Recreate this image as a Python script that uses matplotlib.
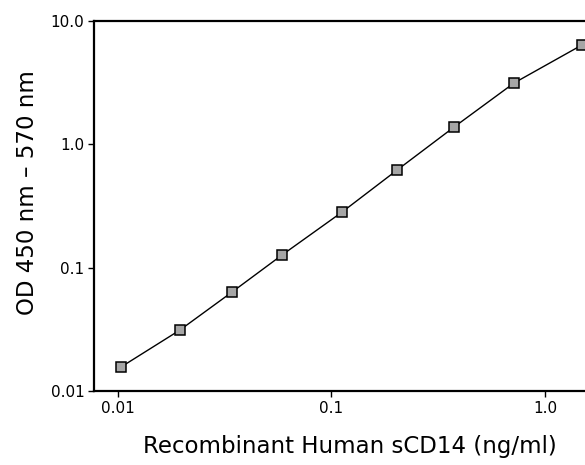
import matplotlib
matplotlib.use('Agg')
import matplotlib.pyplot as plt
from matplotlib.ticker import FixedLocator, FixedFormatter, NullLocator

# Standard curve values
conc = [0.0103, 0.0195, 0.0342, 0.0586, 0.112, 0.203, 0.375, 0.716, 1.49]
od = [0.0156, 0.0312, 0.0634, 0.1265, 0.282, 0.619, 1.38, 3.14, 6.39]

x_ticks = [0.01, 0.1, 1.0]
x_tick_labels = ['0.01', '0.1', '1.0']
y_ticks = [0.01, 0.1, 1.0, 10.0]
y_tick_labels = ['0.01', '0.1', '1.0', '10.0']

plt.rcParams['font.family'] = 'DejaVu Sans'

fig = plt.figure(figsize=(5.85, 4.65), dpi=100)
# axes run past the right edge of the picture, like the reference
ax = fig.add_axes([94 / 585, 1 - 391 / 465, (585 - 94) / 585, (391 - 21) / 465])

ax.plot(conc, od, color='black', linewidth=1.0, marker='s', markersize=6.5,
        markerfacecolor='#a6a6a6', markeredgecolor='black', markeredgewidth=1.1)

ax.set_xscale('log')
ax.set_yscale('log')
ax.set_xlim(0.00772, 1.54)
ax.set_ylim(0.01, 10.0)

ax.xaxis.set_major_locator(FixedLocator(x_ticks))
ax.xaxis.set_major_formatter(FixedFormatter(x_tick_labels))
ax.xaxis.set_minor_locator(NullLocator())
ax.yaxis.set_major_locator(FixedLocator(y_ticks))
ax.yaxis.set_major_formatter(FixedFormatter(y_tick_labels))
ax.yaxis.set_minor_locator(NullLocator())

ax.tick_params(axis='both', direction='out', length=4, width=1.0,
               labelsize=11, pad=3)
ax.spines['right'].set_visible(False)
for side in ('left', 'top', 'bottom'):
    ax.spines[side].set_linewidth(1.6)

ax.set_xlabel('Recombinant Human sCD14 (ng/ml)', fontsize=16.5)
ax.xaxis.set_label_coords((350 - 94) / (585 - 94), -(447 - 391) / (391 - 21))
ax.set_ylabel('OD 450 nm \u2013 570 nm', fontsize=16.5)
ax.yaxis.set_label_coords(-(94 - 28) / (585 - 94), (391 - 193) / (391 - 21))
ax.xaxis.label.set_va('center')
ax.yaxis.label.set_va('center')

fig.savefig('out.png', dpi=100, facecolor='white')
